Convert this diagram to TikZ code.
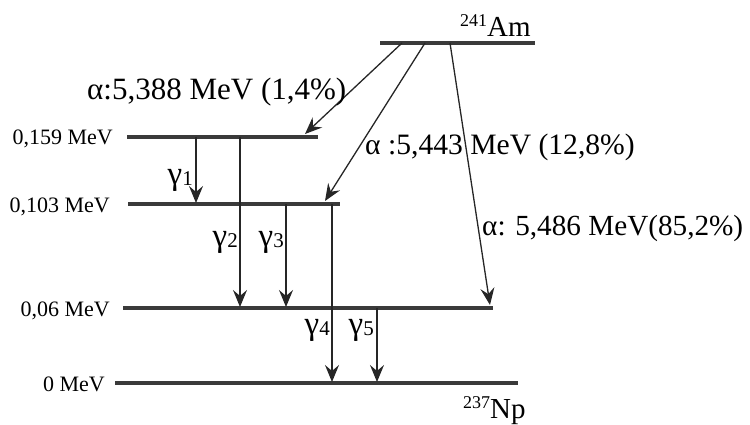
\documentclass[tikz,border=0pt]{standalone}
\usepackage{fontspec}
\setmainfont{Liberation Serif}
\newfontfamily\serifface{Liberation Serif}
\usetikzlibrary{arrows.meta}
\definecolor{lvl}{HTML}{3A3A3A}
\tikzset{
  level/.style={line width=4pt, draw=lvl},
  trans/.style={line width=1.3pt, draw=black!85, -{Stealth[length=17pt,width=14pt,inset=6pt]}},
  big/.style={inner sep=0pt, anchor=base west},
  lvllab/.style={font=\serifface\fontsize{22}{24}\selectfont, inner sep=0pt, anchor=base east},
  glab/.style={font=\serifface\fontsize{33}{34}\selectfont, inner sep=0pt, anchor=east}
}
\newcommand{\gsub}[1]{γ\raisebox{-1pt}{\fontsize{21}{21}\selectfont #1}}
\begin{document}
\begin{tikzpicture}[x=1pt,y=-1pt]
\useasboundingbox (0,0) rectangle (750,425);
% levels
\coordinate (amL) at (380,43);  \coordinate (amR) at (535,43);
\coordinate (l3L) at (127,137); \coordinate (l3R) at (318,137);
\coordinate (l2L) at (128,204); \coordinate (l2R) at (340,204);
\coordinate (l1L) at (123,308); \coordinate (l1R) at (493,308);
\coordinate (l0L) at (115,383); \coordinate (l0R) at (518,383);
\draw[level] (amL) -- (amR);
\draw[level] (l3L) -- (l3R);
\draw[level] (l2L) -- (l2R);
\draw[level] (l1L) -- (l1R);
\draw[level] (l0L) -- (l0R);
% level labels
\node[lvllab] (t3) at (113,145) {0,159 MeV};
\node[lvllab] (t2) at (110,212) {0,103 MeV};
\node[lvllab] (t1) at (110,316) {0,06 MeV};
\node[lvllab] (t0) at (105,391) {0 MeV};
% nuclide labels
\node[big, font=\serifface\fontsize{29}{32}\selectfont] (am) at (460,37) {\raisebox{10pt}{\fontsize{18}{18}\selectfont 241}Am};
\node[big, font=\serifface\fontsize{29}{32}\selectfont] (np) at (463,418) {\raisebox{10pt}{\fontsize{18}{18}\selectfont 237}Np};
% alpha transitions
\coordinate (a1s) at (402,43); \coordinate (a1e) at (305,134);
\coordinate (a2s) at (425,43); \coordinate (a2e) at (325,201);
\coordinate (a3s) at (450,43); \coordinate (a3e) at (490,305);
\draw[trans] (a1s) -- (a1e);
\draw[trans] (a2s) -- (a2e);
\draw[trans] (a3s) -- (a3e);
\node[big, font=\serifface\fontsize{31}{34}\selectfont] (al1) at (87,100) {α:5,388 MeV (1,4\%)};
\node[big, font=\serifface\fontsize{29.6}{32}\selectfont] (al2) at (365,155) {α :5,443 MeV (12,8\%)};
\node[big, font=\serifface\fontsize{29.2}{32}\selectfont] (al3) at (482,235) {α: 5,486 MeV(85,2\%)};
% gamma transitions
\coordinate (g1s) at (196,137); \coordinate (g1e) at (196,203);
\coordinate (g2s) at (240,137); \coordinate (g2e) at (240,307);
\coordinate (g3s) at (286,204); \coordinate (g3e) at (286,307);
\coordinate (g4s) at (332,204); \coordinate (g4e) at (332,382);
\coordinate (g5s) at (377,308); \coordinate (g5e) at (377,382);
\draw[trans] (g1s) -- (g1e);
\draw[trans] (g2s) -- (g2e);
\draw[trans] (g3s) -- (g3e);
\draw[trans] (g4s) -- (g4e);
\draw[trans] (g5s) -- (g5e);
\node[glab] (gl1) at (193,180) {\gsub{1}};
\node[glab] (gl2) at (238,242) {\gsub{2}};
\node[glab] (gl3) at (284,242) {\gsub{3}};
\node[glab] (gl4) at (330,330) {\gsub{4}};
\node[glab] (gl5) at (374,330) {\gsub{5}};
\end{tikzpicture}
\end{document}
